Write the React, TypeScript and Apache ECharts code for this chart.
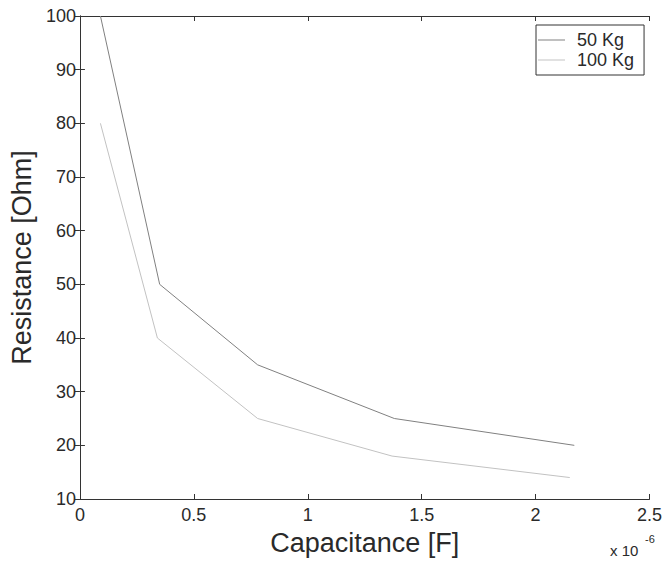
import React, { useEffect, useRef } from "react";
import * as echarts from "echarts";

const seriesNames = ["50 Kg", "100 Kg"];
const cap50 = [0.09, 0.35, 0.78, 1.38, 2.17];
const res50 = [100, 50, 35, 25, 20];
const cap100 = [0.09, 0.34, 0.78, 1.37, 2.15];
const res100 = [80, 40, 25, 18, 14];
const xTicks = [0, 0.5, 1, 1.5, 2, 2.5];
const yTicks = [10, 20, 30, 40, 50, 60, 70, 80, 90, 100];

const FONT = "Liberation Sans, Arial, sans-serif";
const AX = "#333";
const TXT = "#2a2a2a";

export default function App() {
  const ref = useRef<HTMLDivElement>(null);
  useEffect(() => {
    document.body.style.margin = "0";
    const chart = echarts.init(ref.current!, undefined, { renderer: "svg" });
    const baseX = {
      type: "value" as const,
      min: xTicks[0],
      max: xTicks[xTicks.length - 1],
      interval: 0.5,
      axisLine: { lineStyle: { color: AX, width: 1 } },
      axisTick: { inside: true, length: 5, lineStyle: { color: AX } },
      splitLine: { show: false },
    };
    const baseY = {
      type: "value" as const,
      min: yTicks[0],
      max: yTicks[yTicks.length - 1],
      interval: 10,
      axisLine: { lineStyle: { color: AX, width: 1 } },
      axisTick: { inside: true, length: 5, lineStyle: { color: AX } },
      splitLine: { show: false },
    };
    chart.setOption({
      animation: false,
      backgroundColor: "#fff",
      textStyle: { fontFamily: FONT },
      grid: { left: 77, right: 11, top: 16, bottom: 61, containLabel: false },
      xAxis: [
        {
          ...baseX,
          position: "bottom",
          name: "Capacitance [F]",
          nameLocation: "middle",
          nameGap: 30,
          nameTextStyle: { fontSize: 27, color: TXT, fontFamily: FONT },
          axisLabel: { fontSize: 18, color: TXT, margin: 7, fontFamily: FONT },
        },
        {
          ...baseX,
          position: "top",
          axisLabel: { show: false },
        },
      ],
      yAxis: [
        {
          ...baseY,
          position: "left",
          name: "Resistance [Ohm]",
          nameLocation: "middle",
          nameGap: 40,
          nameTextStyle: { fontSize: 27, color: TXT, fontFamily: FONT },
          axisLabel: { fontSize: 18, color: TXT, margin: 4, fontFamily: FONT },
        },
        {
          ...baseY,
          position: "right",
          axisLabel: { show: false },
        },
      ],
      legend: {
        orient: "vertical",
        left: 536,
        top: 25,
        padding: [6, 10, 6, 2],
        itemGap: 2,
        itemWidth: 27,
        itemHeight: 1,
        icon: "rect",
        borderColor: AX,
        borderWidth: 1,
        borderRadius: 0,
        backgroundColor: "#fff",
        textStyle: { fontSize: 18, color: TXT, fontFamily: FONT, padding: [0, 0, 0, 7] },
        data: seriesNames,
      },
      series: [
        {
          name: seriesNames[0],
          type: "line",
          xAxisIndex: 0,
          yAxisIndex: 0,
          symbol: "none",
          lineStyle: { color: "#808080", width: 1 },
          itemStyle: { color: "#808080" },
          data: cap50.map((c, i) => [c, res50[i]]),
        },
        {
          name: seriesNames[1],
          type: "line",
          xAxisIndex: 0,
          yAxisIndex: 0,
          symbol: "none",
          lineStyle: { color: "#c2c2c2", width: 1 },
          itemStyle: { color: "#c2c2c2" },
          data: cap100.map((c, i) => [c, res100[i]]),
        },
      ],
      graphic: [
        {
          type: "text",
          left: 610,
          top: 543,
          style: { text: "x 10", fontSize: 15, fill: TXT, fontFamily: FONT },
        },
        {
          type: "text",
          left: 645,
          top: 533,
          style: { text: "-6", fontSize: 11, fill: TXT, fontFamily: FONT },
        },
      ],
    });
    return () => chart.dispose();
  }, []);
  return <div ref={ref} style={{ width: 665, height: 561 }} />;
}
